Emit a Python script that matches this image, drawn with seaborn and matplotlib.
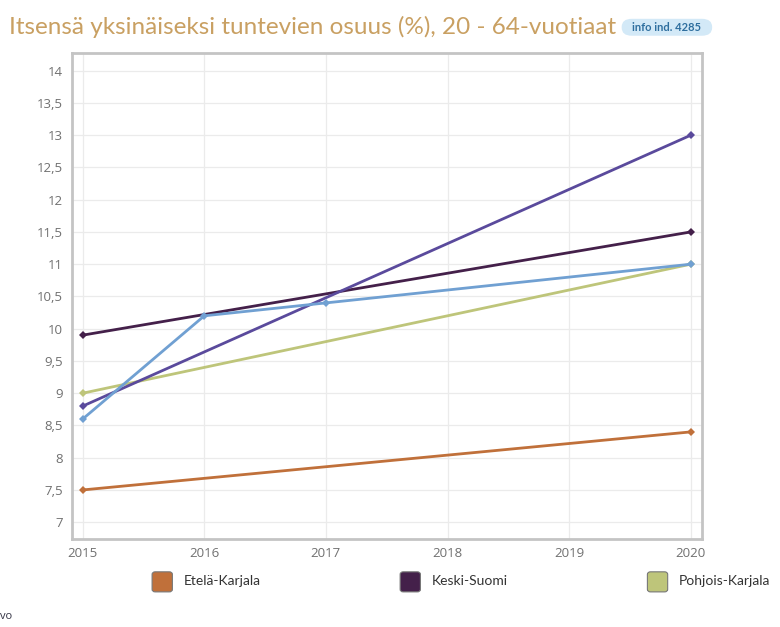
import pandas as pd
import matplotlib.pyplot as plt
import seaborn as sns
from matplotlib import font_manager
from matplotlib.patches import FancyBboxPatch
from matplotlib.ticker import FixedLocator, FuncFormatter

# ---------------------------------
# data
# ---------------------------------
regions = ["Etelä-Karjala", "Keski-Suomi", "Pohjois-Karjala", "Pohjois-Savo", "Etelä-Savo"]
years_short = [2015, 2020]
years_blue = [2015, 2016, 2017, 2020]
ek_vals = [7.5, 8.4]
ks_vals = [9.9, 11.5]
pk_vals = [9.0, 11.0]
ps_vals = [8.8, 13.0]
es_vals = [8.6, 10.2, 10.4, 11.0]
colors = ["#c0703a", "#44204a", "#bec57a", "#5a4a9c", "#70a0d2"]
y_ticks = [7, 7.5, 8, 8.5, 9, 9.5, 10, 10.5, 11, 11.5, 12, 12.5, 13, 13.5, 14]
x_ticks = [2015, 2016, 2017, 2018, 2019, 2020]

rows = []
for name, yrs, vals in [
    (regions[0], years_short, ek_vals),
    (regions[1], years_short, ks_vals),
    (regions[2], years_short, pk_vals),
    (regions[3], years_short, ps_vals),
    (regions[4], years_blue, es_vals),
]:
    for yr, v in zip(yrs, vals):
        rows.append({"Vuosi": yr, "Arvo": v, "Alue": name})
df = pd.DataFrame(rows)

# ---------------------------------
# plot
# ---------------------------------
sns.set_style("white")
plt.rcParams["font.family"] = ["Open Sans", "DejaVu Sans"]

# narrow font for title if available
names = {f.name for f in font_manager.fontManager.ttflist}
title_font = "Liberation Sans Narrow" if "Liberation Sans Narrow" in names else "Lato"

fig = plt.figure(figsize=(7.8, 6.27), dpi=100)
ax = fig.add_axes([0.0917, 0.1404, 0.8079, 0.7746])

# draw lines in z-order so the blue one sits on top like the original
order = [regions[0], regions[2], regions[1], regions[3], regions[4]]
for name in order:
    sub = df[df["Alue"] == name]
    sns.lineplot(data=sub, x="Vuosi", y="Arvo", color=colors[regions.index(name)],
                 marker="D", markersize=4, markeredgewidth=0, linewidth=2,
                 ax=ax, legend=False)

ax.set_xlim(2014.908, 2020.09)
ax.set_ylim(6.74, 14.27)
ax.xaxis.set_major_locator(FixedLocator(x_ticks))
ax.yaxis.set_major_locator(FixedLocator(y_ticks))
ax.yaxis.set_major_formatter(FuncFormatter(lambda v, p: f"{v:g}".replace(".", ",")))
ax.grid(True, color="#ebebeb", linewidth=0.9)
ax.set_xlabel("")
ax.set_ylabel("")
ax.tick_params(axis="both", labelsize=9.5, colors="#707070", length=0, pad=6)
for s in ax.spines.values():
    s.set_color("#c4c4c4")
    s.set_linewidth(2)

# title + badge
fig.text(0.012, 0.957, "Itsensä yksinäiseksi tuntevien osuus (%), 20 - 64-vuotiaat",
         fontsize=17.5, color="#c9a062", ha="left", va="center", family=title_font)
badge = FancyBboxPatch((0.797, 0.943), 0.116, 0.027, boxstyle="round,pad=0,rounding_size=0.013",
                       transform=fig.transFigure, facecolor="#d3e9f7", edgecolor="none")
fig.patches.append(badge)
fig.text(0.855, 0.9565, "info ind. 4285", fontsize=8, color="#2f6f9f",
         fontweight="bold", ha="center", va="center", family=title_font)

# legend (only first row visible in the original)
leg_x = [0.195, 0.513, 0.83]
for i in range(3):
    sq = FancyBboxPatch((leg_x[i], 0.056), 0.026, 0.032,
                        boxstyle="round,pad=0,rounding_size=0.004",
                        transform=fig.transFigure, facecolor=colors[i],
                        edgecolor="#777777", linewidth=0.8)
    fig.patches.append(sq)
    fig.text(leg_x[i] + 0.04, 0.073, regions[i], fontsize=10, color="#333333",
             ha="left", va="center", family=title_font)

fig.text(0.0, 0.016, "vo", fontsize=8, color="#333344", ha="left", va="center")

plt.savefig("out.png", dpi=100)
